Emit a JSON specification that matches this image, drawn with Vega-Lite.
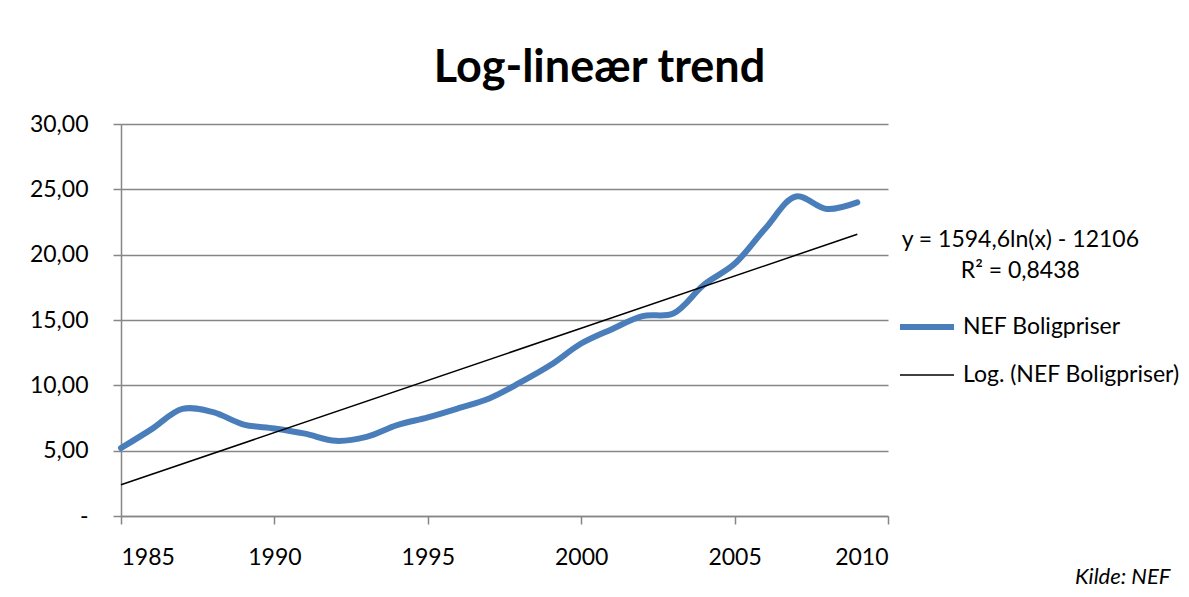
{
  "$schema": "https://vega.github.io/schema/vega-lite/v6.json",
  "width": 767,
  "height": 392,
  "autosize": {"type": "none"},
  "padding": {"left": 121, "top": 124, "right": 301, "bottom": 81},
  "background": "white",
  "title": {
    "text": "Log-lineær trend",
    "font": "Lato",
    "fontSize": 45,
    "fontWeight": "bold",
    "color": "black",
    "anchor": "middle",
    "frame": "group",
    "dx": 95,
    "offset": 22
  },
  "datasets": {
    "priser": [
      {"year": 1985, "value": 5.2, "serie": "NEF Boligpriser"},
      {"year": 1986, "value": 6.65, "serie": "NEF Boligpriser"},
      {"year": 1987, "value": 8.2, "serie": "NEF Boligpriser"},
      {"year": 1988, "value": 7.95, "serie": "NEF Boligpriser"},
      {"year": 1989, "value": 7.0, "serie": "NEF Boligpriser"},
      {"year": 1990, "value": 6.7, "serie": "NEF Boligpriser"},
      {"year": 1991, "value": 6.3, "serie": "NEF Boligpriser"},
      {"year": 1992, "value": 5.75, "serie": "NEF Boligpriser"},
      {"year": 1993, "value": 6.05, "serie": "NEF Boligpriser"},
      {"year": 1994, "value": 6.95, "serie": "NEF Boligpriser"},
      {"year": 1995, "value": 7.55, "serie": "NEF Boligpriser"},
      {"year": 1996, "value": 8.25, "serie": "NEF Boligpriser"},
      {"year": 1997, "value": 9.0, "serie": "NEF Boligpriser"},
      {"year": 1998, "value": 10.2, "serie": "NEF Boligpriser"},
      {"year": 1999, "value": 11.55, "serie": "NEF Boligpriser"},
      {"year": 2000, "value": 13.2, "serie": "NEF Boligpriser"},
      {"year": 2001, "value": 14.3, "serie": "NEF Boligpriser"},
      {"year": 2002, "value": 15.3, "serie": "NEF Boligpriser"},
      {"year": 2003, "value": 15.5, "serie": "NEF Boligpriser"},
      {"year": 2004, "value": 17.7, "serie": "NEF Boligpriser"},
      {"year": 2005, "value": 19.3, "serie": "NEF Boligpriser"},
      {"year": 2006, "value": 22.0, "serie": "NEF Boligpriser"},
      {"year": 2007, "value": 24.45, "serie": "NEF Boligpriser"},
      {"year": 2008, "value": 23.5, "serie": "NEF Boligpriser"},
      {"year": 2009, "value": 24.0, "serie": "NEF Boligpriser"}
    ],
    "trend": [
      {"year": 1985, "value": 2.39, "serie": "Log. (NEF Boligpriser)"},
      {"year": 2009, "value": 21.56, "serie": "Log. (NEF Boligpriser)"}
    ],
    "ligning": [
      {"year": 2009, "value": 21.56, "tekst": ["y = 1594,6ln(x) - 12106", "R² = 0,8438"]}
    ]
  },
  "encoding": {
    "x": {
      "field": "year",
      "type": "quantitative",
      "scale": {"domain": [1985, 2010], "nice": false, "zero": false},
      "axis": {
        "values": [1985, 1990, 1995, 2000, 2005, 2010],
        "format": "d",
        "grid": false,
        "labelPadding": 22,
        "title": "Kilde: NEF",
        "titleFont": "Lato",
        "titleFontSize": 22,
        "titleFontStyle": "italic",
        "titleFontWeight": "normal",
        "titleColor": "black",
        "titleAlign": "right",
        "titleAnchor": null,
        "titleBaseline": "alphabetic",
        "titleX": 1049,
        "titleY": 67
      }
    },
    "y": {
      "field": "value",
      "type": "quantitative",
      "scale": {"domain": [0, 30], "nice": false, "zero": true},
      "axis": {
        "values": [0, 5, 10, 15, 20, 25, 30],
        "labelExpr": "datum.value == 0 ? '-\u00a0\u00a0\u00a0\u00a0' : replace(format(datum.value, '.2f'), '.', ',')",
        "grid": true,
        "labelPadding": 25,
        "title": null
      }
    }
  },
  "layer": [
    {
      "data": {"name": "priser"},
      "mark": {"type": "line", "interpolate": "catmull-rom", "strokeCap": "round", "strokeJoin": "round"},
      "encoding": {
        "color": {
          "field": "serie",
          "type": "nominal",
          "scale": {"domain": ["NEF Boligpriser", "Log. (NEF Boligpriser)"], "range": ["#4A7EBB", "#000000"]},
          "legend": {"title": null}
        },
        "strokeWidth": {
          "field": "serie",
          "type": "nominal",
          "scale": {"domain": ["NEF Boligpriser", "Log. (NEF Boligpriser)"], "range": [6, 1.5]},
          "legend": {"title": null}
        }
      }
    },
    {
      "data": {"name": "trend"},
      "mark": {"type": "line"},
      "encoding": {
        "color": {"field": "serie", "type": "nominal"},
        "strokeWidth": {"field": "serie", "type": "nominal"}
      }
    },
    {
      "data": {"name": "ligning"},
      "mark": {
        "type": "text",
        "font": "Lato",
        "fontSize": 23,
        "color": "black",
        "align": "center",
        "baseline": "alphabetic",
        "lineHeight": 31,
        "dx": 163,
        "dy": 13
      },
      "encoding": {
        "text": {"field": "tekst"}
      }
    }
  ],
  "config": {
    "view": {"stroke": null},
    "axis": {
      "domainColor": "#868686",
      "domainWidth": 1.5,
      "tickColor": "#868686",
      "tickWidth": 1.5,
      "tickSize": 8,
      "gridColor": "#868686",
      "gridWidth": 1.5,
      "labelFont": "Lato",
      "labelFontSize": 23,
      "labelColor": "black"
    },
    "legend": {
      "orient": "none",
      "legendX": 776,
      "legendY": 173,
      "symbolType": "stroke",
      "symbolSize": 2916,
      "labelFont": "Lato",
      "labelFontSize": 23,
      "labelColor": "black",
      "labelOffset": 6,
      "rowPadding": 8,
      "labelLimit": 400
    }
  }
}
